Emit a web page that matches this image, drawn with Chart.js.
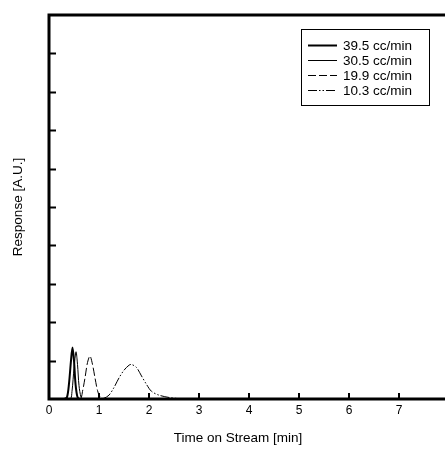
<!DOCTYPE html>
<html>
<head>
<meta charset="utf-8">
<script src="https://cdn.jsdelivr.net/npm/chart.js@4/dist/chart.umd.min.js"></script>
<style>
  html, body { margin: 0; padding: 0; background: #fff; overflow: hidden; }
  #wrap { width: 445px; height: 450px; overflow: hidden; }
</style>
</head>
<body>
<div id="wrap"><canvas id="peakChart" width="470" height="450"></canvas></div>
<script>
// flow rates shown in the legend
var seriesLabels = ['39.5 cc/min', '30.5 cc/min', '19.9 cc/min', '10.3 cc/min'];

// time on stream [min] and response values
var time395 = [0, 0.30, 0.36, 0.40, 0.44, 0.47, 0.50, 0.53, 0.57, 0.62, 8];
var resp395 = [0, 0, 0.05, 0.40, 1.00, 1.34, 1.00, 0.40, 0.05, 0, 0];

var time305 = [0, 0.42, 0.46, 0.50, 0.54, 0.57, 0.60, 0.64, 0.68, 8];
var resp305 = [0, 0, 0.20, 0.80, 1.23, 0.90, 0.35, 0.05, 0, 0];

var time199 = [0, 0.62, 0.67, 0.72, 0.77, 0.82, 0.87, 0.92, 0.97, 1.02, 1.08, 8];
var resp199 = [0, 0, 0.20, 0.55, 0.95, 1.12, 0.90, 0.55, 0.22, 0.05, 0, 0];

var time103 = [0, 1.00, 1.10, 1.20, 1.30, 1.40, 1.50, 1.60, 1.65, 1.75, 1.85, 1.95, 2.05, 2.20, 2.40, 2.60, 2.80, 8];
var resp103 = [0, 0, 0.02, 0.10, 0.30, 0.55, 0.75, 0.88, 0.90, 0.82, 0.60, 0.38, 0.20, 0.10, 0.04, 0.01, 0, 0];

var xTickLabels = ['0', '1', '2', '3', '4', '5', '6', '7'];

function toPoints(xs, ys)
{
    var pts = [];
    for (let i = 0; i < xs.length; i++) {
        pts.push({x: xs[i], y: ys[i]});
    }
    return pts;
}

// frame, inward ticks, tick labels, axis titles and the boxed legend
var framePlugin = {
    id: 'frame',
    afterDraw: function(chart) {
        var ctx = chart.ctx;
        var area = chart.chartArea;
        var xs = chart.scales.x;
        var ys = chart.scales.y;
        ctx.save();
        ctx.strokeStyle = '#000';

        // inward tick marks
        ctx.lineWidth = 2;
        for (let v = 1; v < 10; v++) {
            var py = Math.round(ys.getPixelForValue(v)) + 0.5;
            ctx.beginPath();
            ctx.moveTo(area.left, py);
            ctx.lineTo(area.left + 7, py);
            ctx.stroke();
        }
        for (let v = 1; v < 8; v++) {
            var px = Math.round(xs.getPixelForValue(v));
            ctx.beginPath();
            ctx.moveTo(px, area.bottom);
            ctx.lineTo(px, area.bottom - 6);
            ctx.stroke();
        }

        // frame
        ctx.lineWidth = 3;
        ctx.beginPath();
        ctx.moveTo(area.right, area.top);
        ctx.lineTo(area.left, area.top);
        ctx.lineTo(area.left, area.bottom);
        ctx.lineTo(area.right, area.bottom);
        ctx.lineTo(area.right, area.top);
        ctx.stroke();

        // x tick labels
        ctx.fillStyle = '#000';
        ctx.font = '12px "Liberation Sans", Arial, sans-serif';
        ctx.textAlign = 'center';
        ctx.textBaseline = 'middle';
        for (let i = 0; i < xTickLabels.length; i++) {
            ctx.fillText(xTickLabels[i], xs.getPixelForValue(i), area.bottom + 12);
        }

        // axis titles
        ctx.font = '13.5px "Liberation Sans", Arial, sans-serif';
        ctx.fillText('Time on Stream [min]', 238, 438);
        ctx.save();
        ctx.translate(18, (area.top + area.bottom) / 2);
        ctx.rotate(-Math.PI / 2);
        ctx.fillText('Response [A.U.]', 0, 0);
        ctx.restore();

        // legend
        ctx.lineWidth = 1;
        ctx.strokeRect(301.5, 29.5, 128, 76);
        ctx.textAlign = 'left';
        ctx.font = '13.5px "Liberation Sans", Arial, sans-serif';
        var rowY = [45, 60, 75, 90];
        chart.data.datasets.forEach(function(ds, i) {
            ctx.save();
            ctx.lineWidth = ds.borderWidth;
            ctx.setLineDash(ds.borderDash || []);
            ctx.beginPath();
            ctx.moveTo(308, rowY[i] + 0.5);
            ctx.lineTo(337, rowY[i] + 0.5);
            ctx.stroke();
            ctx.restore();
            ctx.fillText(ds.label, 343, rowY[i] + 1);
        });
        ctx.restore();
    }
};

var ctx = document.getElementById('peakChart').getContext('2d');
var myChart = new Chart(ctx, {
    type: 'line',
    data: {
        datasets: [
            {
                label: seriesLabels[0],
                data: toPoints(time395, resp395),
                borderColor: '#000',
                borderWidth: 2,
                tension: 0.3
            },
            {
                label: seriesLabels[1],
                data: toPoints(time305, resp305),
                borderColor: '#000',
                borderWidth: 1,
                tension: 0.3
            },
            {
                label: seriesLabels[2],
                data: toPoints(time199, resp199),
                borderColor: '#000',
                borderWidth: 1,
                borderDash: [8, 3],
                tension: 0.3
            },
            {
                label: seriesLabels[3],
                data: toPoints(time103, resp103),
                borderColor: '#000',
                borderWidth: 1,
                borderDash: [9, 2, 1.5, 2, 1.5, 2],
                tension: 0.3
            }
        ]
    },
    options: {
        responsive: false,
        animation: false,
        events: [],
        elements: {
            point: { radius: 0 }
        },
        layout: {
            padding: { left: 49, top: 15, right: 21, bottom: 51 }
        },
        plugins: {
            legend: { display: false },
            tooltip: { enabled: false }
        },
        scales: {
            x: {
                type: 'linear',
                min: 0,
                max: 8,
                display: false
            },
            y: {
                min: 0,
                max: 10,
                display: false
            }
        }
    },
    plugins: [framePlugin]
});
</script>
</body>
</html>
